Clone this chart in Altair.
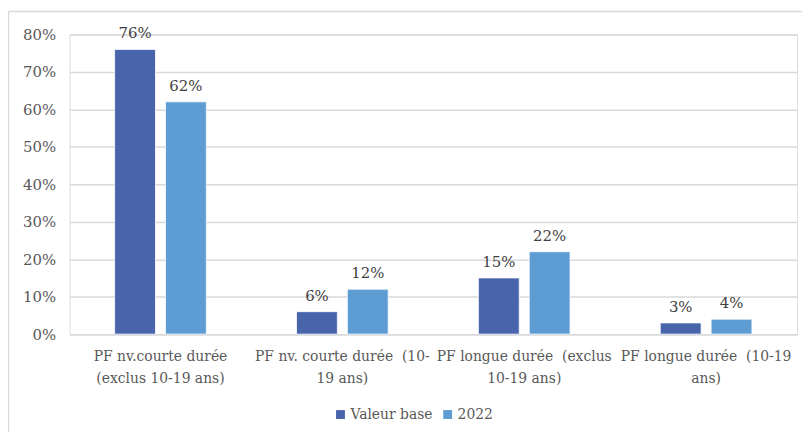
import altair as alt
import pandas as pd

categories = [
    "PF nv.courte durée (exclus 10-19 ans)",
    "PF nv. courte durée  (10-19 ans)",
    "PF longue durée  (exclus 10-19 ans)",
    "PF longue durée  (10-19 ans)",
]
label_lines = [
    ["PF nv.courte durée", "(exclus 10-19 ans)"],
    ["PF nv. courte durée \u00a0(10-", "19 ans)"],
    ["PF longue durée \u00a0(exclus", "10-19 ans)"],
    ["PF longue durée \u00a0(10-19", "ans)"],
]
series = ["Valeur base", "2022"]
valeur_base = [0.76, 0.06, 0.15, 0.03]
valeur_2022 = [0.62, 0.12, 0.22, 0.04]
colors = ["#4865ac", "#5e9dd3"]
y_ticks = [0, 0.1, 0.2, 0.3, 0.4, 0.5, 0.6, 0.7, 0.8]

rows = []
for c, a, b in zip(categories, valeur_base, valeur_2022):
    rows.append({"cat": c, "serie": series[0], "val": a})
    rows.append({"cat": c, "serie": series[1], "val": b})
df = pd.DataFrame(rows)

# build multi-line label expression
expr = "''"
for c, lines in reversed(list(zip(categories, label_lines))):
    arr = "[" + ",".join("'" + l + "'" for l in lines) + "]"
    expr = f"datum.label == '{c}' ? {arr} : ({expr})"

FONT = "DejaVu Serif"
TXT = "#595959"

base = alt.Chart(df).encode(
    x=alt.X(
        "cat:N",
        sort=categories,
        scale=alt.Scale(paddingInner=0, paddingOuter=0),
        axis=alt.Axis(
            title=None,
            labelAngle=0,
            labelExpr=expr,
            labelFont=FONT,
            labelFontSize=14,
            labelColor=TXT,
            labelPadding=16,
            labelLineHeight=22,
            labelOverlap=False,
            labelLimit=0,
            labelBound=False,
            ticks=False,
            domainColor="#d9d9d9",
            domainWidth=1.5,
        ),
    ),
    xOffset=alt.XOffset(
        "serie:N", sort=series, scale=alt.Scale(paddingInner=0.196, paddingOuter=0.887)
    ),
    y=alt.Y(
        "val:Q",
        scale=alt.Scale(domain=[0, 0.8], nice=False),
        axis=alt.Axis(
            title=None,
            format=".0%",
            values=y_ticks,
            labelFont=FONT,
            labelFontSize=15,
            labelColor=TXT,
            labelPadding=14,
            ticks=False,
            domain=False,
            gridColor="#d9d9d9",
            gridWidth=1.5,
        ),
    ),
)

bars = base.mark_bar(stroke="white", strokeWidth=0.8).encode(
    color=alt.Color(
        "serie:N",
        sort=series,
        scale=alt.Scale(domain=series, range=colors),
        legend=alt.Legend(
            title=None,
            orient="none",
            legendX=266,
            legendY=376,
            direction="horizontal",
            symbolType="square",
            symbolSize=80,
            symbolStrokeWidth=0,
            labelFont=FONT,
            labelFontSize=14,
            labelColor=TXT,
            labelOffset=3,
            columnPadding=8,
        ),
    )
)

labels = base.mark_text(
    dy=-11, baseline="alphabetic", font=FONT, fontSize=15, color="#404040"
).encode(text=alt.Text("val:Q", format=".0%"))

border_data = alt.Data(values=[{"k": 1}])
top_line = alt.Chart(border_data).mark_rule(color="#d9d9d9", strokeWidth=1.5).encode(
    x=alt.value(-61.5), x2=alt.value(800), y=alt.value(-23)
)
left_line = alt.Chart(border_data).mark_rule(color="#d9d9d9", strokeWidth=1.5).encode(
    x=alt.value(-61.5), y=alt.value(-23), y2=alt.value(420)
)

chart = (
    alt.layer(top_line, left_line, bars, labels)
    .properties(
        width=733,
        height=302,
        autosize="none",
        padding={"left": 62, "top": 25, "right": 5, "bottom": 97},
    )
    .configure_view(stroke=None)
    .configure(background="white")
)

chart.save("out.html", embed_options={"renderer": "svg", "actions": False})
